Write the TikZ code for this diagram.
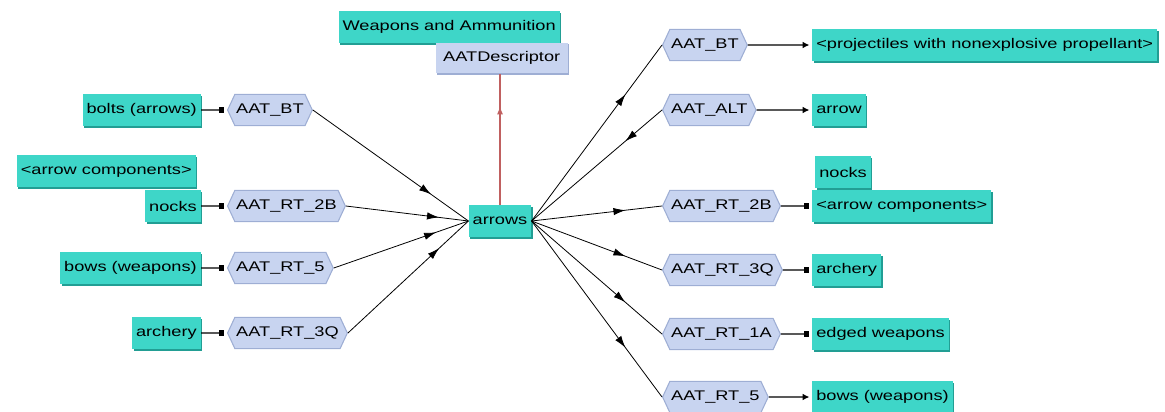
\documentclass[tikz,border=0pt]{standalone}
\usepackage{fontspec}
\setmainfont{Liberation Sans}[FakeStretch=1.3]
\usetikzlibrary{shapes.symbols,arrows.meta,decorations.markings,shadows}
\definecolor{termfill}{RGB}{62,214,200}
\definecolor{termshade}{RGB}{34,158,148}
\definecolor{relfill}{RGB}{200,212,240}
\definecolor{reldraw}{RGB}{158,174,212}
\definecolor{descline}{RGB}{192,96,96}
\begin{document}
\begin{tikzpicture}[x=0.75pt, y=-0.75pt,
  every node/.style = {font=\fontsize{10.5}{12}\selectfont, text=black},
  term/.style = {rectangle, fill=termfill, minimum height=24pt,
    inner xsep=3pt, inner ysep=0pt,
    drop shadow={shadow xshift=1.2pt, shadow yshift=-1.2pt, fill=termshade, opacity=1}},
  rel/.style = {signal, signal to=west and east, signal pointer angle=130,
    fill=relfill, draw=reldraw, line width=0.8pt, minimum height=23.5pt,
    inner xsep=1pt, inner ysep=0pt},
  desc/.style = {rectangle, fill=relfill, minimum height=23pt, minimum width=99pt,
    inner xsep=3pt, inner ysep=0pt,
    drop shadow={shadow xshift=1.2pt, shadow yshift=-1.2pt, fill=reldraw, opacity=1}},
  into/.style = {line width=0.6pt, postaction={decorate},
    decoration={markings, mark=at position 0.76 with {\arrow{Latex[length=9pt,width=5.5pt]}}}},
  outof/.style = {line width=0.6pt, postaction={decorate},
    decoration={markings, mark=at position 0.72 with {\arrow{Latex[length=9pt,width=5.5pt]}}}},
  backto/.style = {line width=0.6pt, postaction={decorate},
    decoration={markings, mark=at position 0.72 with {\arrowreversed{Latex[length=9pt,width=5.5pt]}}}},
  sq/.style = {line width=0.8pt, -{Square[length=4pt,width=5pt]}, shorten >=2pt},
  tip/.style = {line width=0.8pt, -{Latex[length=5pt,width=5pt]}, shorten >=2pt},
  isa/.style = {draw=descline, line width=0.8pt, postaction={decorate},
    decoration={markings, mark=at position 0.75 with {\arrow[descline]{Latex[length=6pt,width=4.5pt]}}}}]
  \useasboundingbox (0,0) rectangle (1165,411);

  \node[term, anchor=east] (wpn) at (560,27) {Weapons and Ammunition};
  \node[desc, anchor=east] (desc) at (568,58) {AATDescriptor};
  \node[term] (arrows) at (500,221) {arrows};

  \node[term, anchor=east] (lbolts) at (201,110) {bolts (arrows)};
  \node[term, anchor=east] (lcomp) at (196,171) {<arrow components>};
  \node[term, anchor=east] (lnocks) at (201,206) {nocks};
  \node[term, anchor=east] (lbows) at (201,268) {bows (weapons)};
  \node[term, anchor=east] (larch) at (201,333) {archery};

  \node[rel, anchor=west] (lbt) at (227,110) {AAT\_BT};
  \node[rel, anchor=west] (l2b) at (227,206) {AAT\_RT\_2B};
  \node[rel, anchor=west] (l5) at (227,268) {AAT\_RT\_5};
  \node[rel, anchor=west] (l3q) at (227,333) {AAT\_RT\_3Q};

  \node[rel, anchor=west] (rbt) at (662,45) {AAT\_BT};
  \node[rel, anchor=west] (ralt) at (662,110) {AAT\_ALT};
  \node[rel, anchor=west] (r2b) at (662,206) {AAT\_RT\_2B};
  \node[rel, anchor=west] (r3q) at (662,270) {AAT\_RT\_3Q};
  \node[rel, anchor=west] (r1a) at (662,334) {AAT\_RT\_1A};
  \node[rel, anchor=west] (r5) at (662,397) {AAT\_RT\_5};

  \node[term, anchor=west] (rproj) at (812,45) {<projectiles with nonexplosive propellant>};
  \node[term, anchor=west] (rarrow) at (812,110) {arrow};
  \node[term, anchor=west] (rnocks) at (815,172) {nocks};
  \node[term, anchor=west] (rcomp) at (812,206) {<arrow components>};
  \node[term, anchor=west] (rarch) at (812,270) {archery};
  \node[term, anchor=west] (redged) at (812,334) {edged weapons};
  \node[term, anchor=west] (rbows) at (812,397) {bows (weapons)};

  \draw[isa] (arrows.north) -- (arrows.north |- desc.south);

  \draw[sq] (lbolts) -- (lbt);
  \draw[sq] (lnocks) -- (l2b);
  \draw[sq] (lbows) -- (l5);
  \draw[sq] (larch) -- (l3q);

  \draw[into] (lbt.east) -- (arrows.west);
  \draw[into] (l2b.east) -- (arrows.west);
  \draw[into] (l5.east) -- (arrows.west);
  \draw[into] (l3q.east) -- (arrows.west);

  \draw[outof] (arrows.east) -- (rbt.west);
  \draw[backto] (arrows.east) -- (ralt.west);
  \draw[outof] (arrows.east) -- (r2b.west);
  \draw[outof] (arrows.east) -- (r3q.west);
  \draw[outof] (arrows.east) -- (r1a.west);
  \draw[outof] (arrows.east) -- (r5.west);

  \draw[tip] (rbt) -- (rproj);
  \draw[tip] (ralt) -- (rarrow);
  \draw[sq] (r2b) -- (rcomp);
  \draw[sq] (r3q) -- (rarch);
  \draw[sq] (r1a) -- (redged);
  \draw[tip] (r5) -- (rbows);
\end{tikzpicture}
\end{document}
